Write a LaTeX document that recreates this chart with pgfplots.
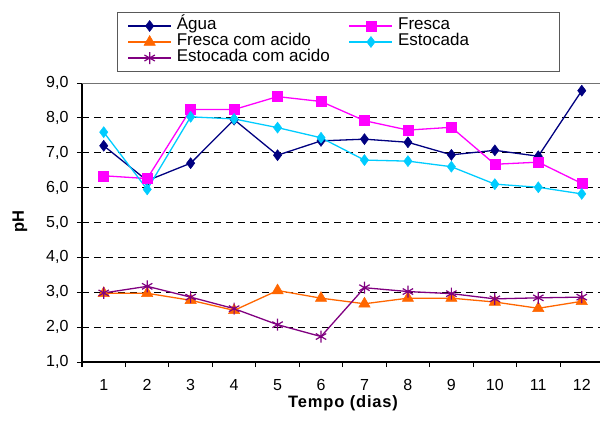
\documentclass[border=0pt]{standalone}
\usepackage{fontspec}
\setmainfont{Liberation Sans}
\usepackage{pgfplots}
\pgfplotsset{compat=1.18}
\definecolor{cAgua}{HTML}{000080}
\definecolor{cFresca}{HTML}{FF00FF}
\definecolor{cFrescaA}{HTML}{FF6600}
\definecolor{cEstocada}{HTML}{00CCFF}
\definecolor{cEstocadaA}{HTML}{800080}
\begin{document}
\begin{tikzpicture}
\begin{axis}[
  name=ax,
  at={(0,0)}, anchor=south west,
  scale only axis,
  width=518pt, height=279pt,
  xmin=0.5, xmax=12.42,
  ymin=1, ymax=9,
  axis x line*=bottom, axis y line*=left,
  axis line style={line width=1.2pt, black},
  xtick={1,...,12},
  minor xtick={0.5,1.5,...,12.5},
  major x tick style={draw=none},
  minor x tick style={black, line width=1pt},
  minor tick length=5pt,
  ytick={1,...,9},
  y tick style={black, line width=1pt},
  major tick length=5pt,
  tick align=outside,
  extra y ticks={2,3,4,5,6,7,8},
  extra y tick labels={},
  extra y tick style={grid=major, major tick length=0pt},
  major grid style={black, line width=0.8pt, dash pattern=on 7pt off 5pt},
  /pgf/number format/assume math mode=true,
  yticklabel={\pgfmathprintnumber[fixed,fixed zerofill,precision=1,use comma]{\tick}},
  ticklabel style={font=\fontsize{16}{18}\selectfont},
  yticklabel style={xshift=-5pt},
  xticklabel style={yshift=-9pt},
  xlabel={\addfontfeature{LetterSpace=5}Tempo (dias)},
  ylabel={pH},
  label style={font=\fontsize{16.5}{18}\selectfont\bfseries},
  xlabel style={at={(axis description cs:0.504,-0.147)}, anchor=center},
  ylabel style={at={(axis description cs:-0.1197,0.502)}, anchor=center},
  every axis plot/.append style={line width=1.3pt},
  legend columns=2,
  legend cell align=left,
  legend image code/.code={\draw[mark repeat=2,mark phase=2,#1] plot coordinates {(0pt,0pt)(21.5pt,0pt)(43pt,0pt)};},
  legend style={at={(axis description cs:0.0676,1.0394)}, anchor=south west,
    draw=black!65, line width=1pt, fill=white,
    inner xsep=10pt, inner ysep=5.5pt,
    font=\fontsize{17}{16}\selectfont,
    nodes={inner sep=0pt, text height=11.5pt, text depth=4.5pt},
    column sep=0pt, row sep=0pt,
    /tikz/every even column/.append style={column sep=0pt},
    /tikz/every odd column/.append style={column sep=0pt}},
  after end axis/.code={\draw[black!55, line width=1pt] (rel axis cs:0,1) -- (rel axis cs:1,1);},
]
\addplot[color=cAgua, mark=diamond*, mark size=5.5pt, mark options={solid, fill=cAgua, line width=0.5pt}] coordinates {
(1,7.20)(2,6.20)(3,6.70)(4,7.95)(5,6.93)(6,7.34)(7,7.39)(8,7.30)(9,6.94)(10,7.07)(11,6.90)(12,8.78)};
\addlegendentry{\hbox to 177pt{\hskip5pt Água\hfil}}
\addplot[color=cFresca, mark=square*, mark size=5pt, mark options={solid, fill=cFresca, line width=0.5pt}] coordinates {
(1,6.34)(2,6.26)(3,8.24)(4,8.24)(5,8.61)(6,8.47)(7,7.92)(8,7.65)(9,7.73)(10,6.67)(11,6.73)(12,6.12)};
\addlegendentry{\hbox to 156pt{\hskip5pt Fresca\hfil}}
\addplot[color=cFrescaA, mark=triangle*, mark size=6.5pt, mark options={solid, fill=cFrescaA, line width=0.5pt}] coordinates {
(1,2.97)(2,2.97)(3,2.77)(4,2.48)(5,3.05)(6,2.83)(7,2.67)(8,2.83)(9,2.83)(10,2.72)(11,2.54)(12,2.74)};
\addlegendentry{\hbox to 177pt{\hskip5pt Fresca com acido\hfil}}
\addplot[color=cEstocada, mark=diamond*, mark size=5.5pt, mark options={solid, fill=cEstocada, line width=0.5pt}] coordinates {
(1,7.59)(2,5.95)(3,8.03)(4,7.97)(5,7.72)(6,7.43)(7,6.79)(8,6.76)(9,6.60)(10,6.10)(11,6.01)(12,5.82)};
\addlegendentry{\hbox to 156pt{\hskip5pt Estocada\hfil}}
\addplot[color=cEstocadaA, mark=asterisk, mark size=6pt, mark options={solid, line width=1.2pt}] coordinates {
(1,2.98)(2,3.17)(3,2.86)(4,2.53)(5,2.07)(6,1.73)(7,3.13)(8,3.02)(9,2.96)(10,2.81)(11,2.84)(12,2.86)};
\addlegendentry{\hbox to 177pt{\hskip5pt Estocada com acido\hfil}}
\end{axis}
\pgfresetboundingbox
\path[use as bounding box] ([xshift=-82pt,yshift=-68pt]ax.south west) rectangle ([xshift=1pt,yshift=83pt]ax.north east);
\end{tikzpicture}
\end{document}
